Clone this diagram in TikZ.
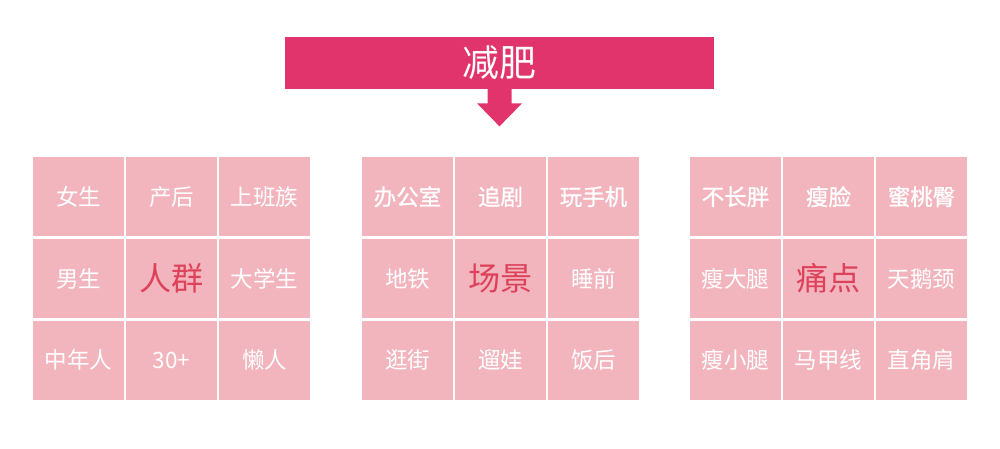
\documentclass[tikz,border=0pt]{standalone}
\usepackage{fontspec}
\newfontfamily\cjk{Noto Sans CJK SC}
\newfontfamily\cjkmed{Noto Sans CJK SC}[FakeBold=1]
\definecolor{bannerpink}{RGB}{226,52,108}
\definecolor{cellpink}{RGB}{242,181,190}
\definecolor{keyred}{RGB}{222,66,90}
\begin{document}
\begin{tikzpicture}[x=0.02cm, y=-0.02cm,
	plain/.style={fill=cellpink, minimum width=1.82cm, minimum height=1.59cm, inner sep=0pt, text=white, font=\cjk\fontsize{12.8}{14}\selectfont},
	bold/.style={plain, font=\cjkmed\fontsize{12.8}{14}\selectfont},
	key/.style={plain, text=keyred, font=\cjk\fontsize{18.3}{20}\selectfont}]
	\useasboundingbox (0,0) rectangle (1000,449);
	\node[fill=bannerpink, minimum width=8.58cm, minimum height=1.04cm, inner sep=0pt, text=white, font=\cjk\fontsize{21}{24}\selectfont] (goal) at (499.5,63) {减肥};
	\fill[bannerpink] (goal.south) ++(-12,-0.5) -- ++(0,14.5) -- ++(-10.5,0) -- ++(22.5,23) -- ++(22.5,-23) -- ++(-10.5,0) -- ++(0,-14.5) -- cycle;
	\foreach \g/\x/\lst in {
		P/33/{女生/plain,产后/plain,上班族/plain,男生/plain,人群/key,大学生/plain,中年人/plain,30+/plain,懒人/plain},
		S/362/{办公室/bold,追剧/bold,玩手机/bold,地铁/plain,场景/key,睡前/plain,逛街/plain,遛娃/plain,饭后/plain},
		T/690/{不长胖/bold,瘦脸/bold,蜜桃臀/bold,瘦大腿/plain,痛点/key,天鹅颈/plain,瘦小腿/plain,马甲线/plain,直角肩/plain}}{
		\foreach \t/\s [count=\k from 0] in \lst {
			\pgfmathsetmacro\cx{\x+45.5+93*mod(\k,3)}
			\pgfmathsetmacro\cy{196.7+81.8*int(\k/3)}
			\node[\s] (\g-\k) at (\cx,\cy) {\t};
		}
	}
\end{tikzpicture}
\end{document}
